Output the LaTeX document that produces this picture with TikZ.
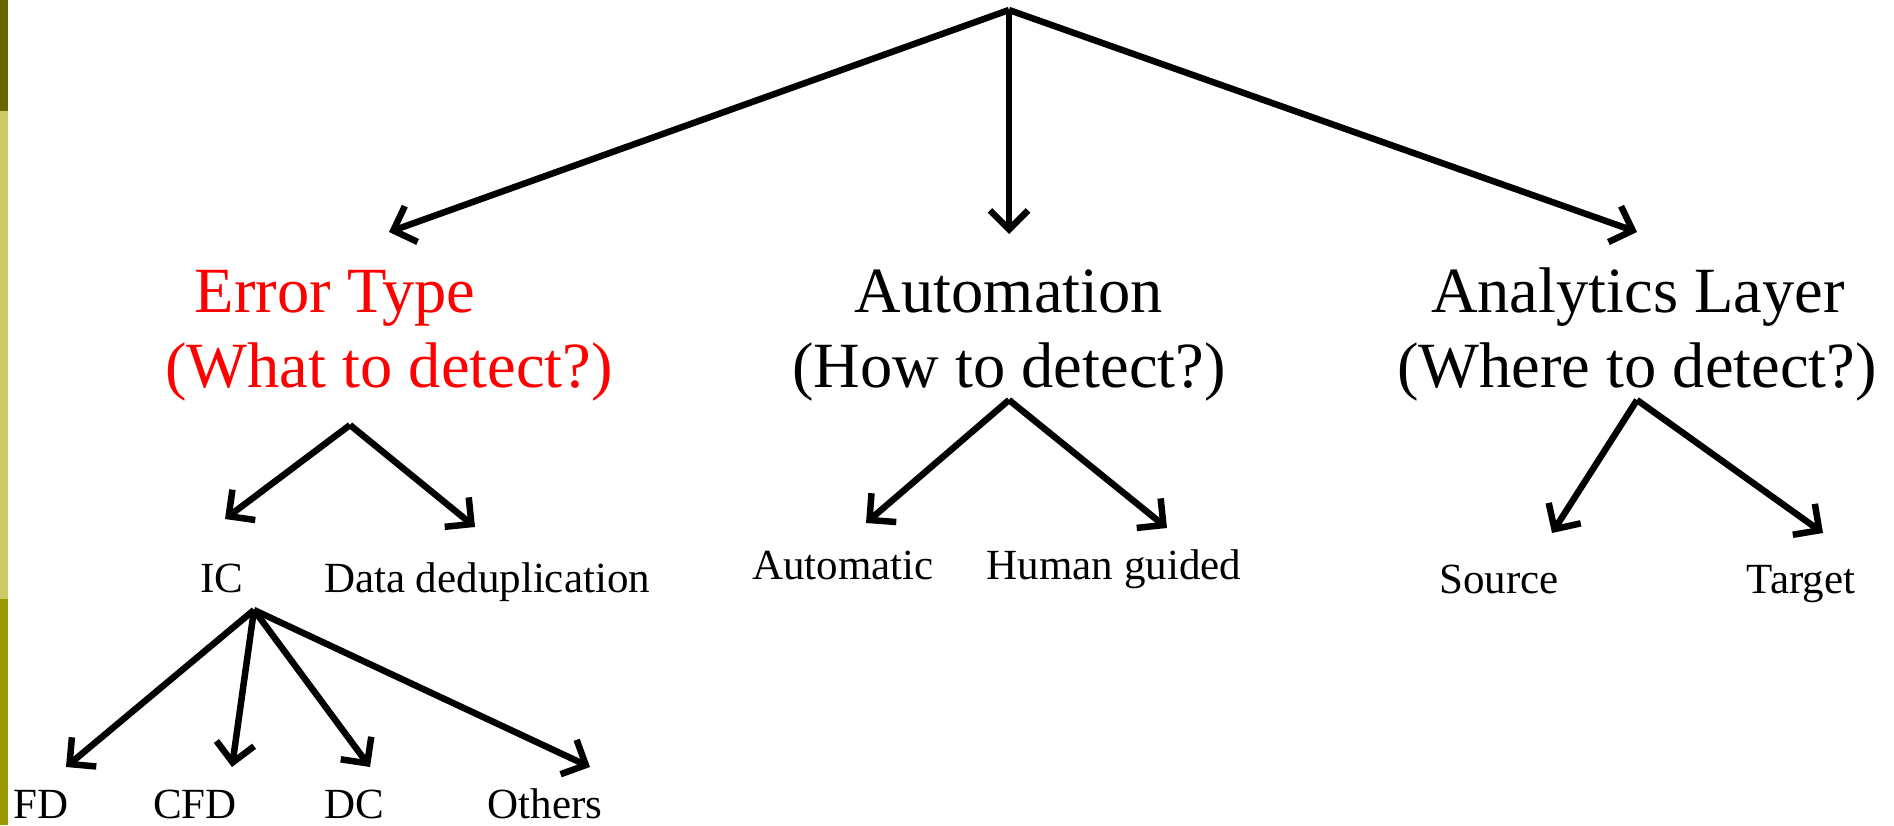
\documentclass[tikz,border=0pt]{standalone}
\usepackage{fontspec}
\setmainfont{Liberation Serif}
\usetikzlibrary{arrows.meta}
\definecolor{bardark}{HTML}{666600}
\definecolor{barlight}{HTML}{CCCC66}
\definecolor{barmid}{HTML}{999900}
\definecolor{errred}{HTML}{FF0000}
\tikzset{
  conn/.style={line width=6.5pt, -{Straight Barb[length=19pt,width=38pt,line width=6.5pt]}},
  bigtxt/.style={anchor=base, inner sep=0pt, font=\fontsize{64.5}{75}\selectfont},
  smalltxt/.style={anchor=base, inner sep=0pt, font=\fontsize{43}{50}\selectfont},
}
\begin{document}
\begin{tikzpicture}[x=1pt,y=-1pt]
\useasboundingbox (0,0) rectangle (1894,825);
\fill[white] (0,0) rectangle (1894,825);
% left bar
\fill[bardark] (0,0) rectangle (8,111);
\fill[barlight] (0,111) rectangle (8,599);
\fill[barmid] (0,599) rectangle (8,825);
% top level
\coordinate (root) at (1009,10);
\coordinate (t1) at (389,232);
\coordinate (t2) at (1009,234);
\coordinate (t3) at (1637,232);
\draw[conn] (root) -- (t1);
\draw[conn] (root) -- (t2);
\draw[conn] (root) -- (t3);
% headings
\node[bigtxt, text=errred] (errA) at (335,312) {Error Type};
\node[bigtxt, text=errred] (errB) at (389,387) {(What to detect?)};
\node[bigtxt] (autA) at (1009,312) {Automation};
\node[bigtxt] (autB) at (1009,387) {(How to detect?)};
\node[bigtxt] (anaA) at (1638,312) {Analytics Layer};
\node[bigtxt] (anaB) at (1637,387) {(Where to detect?)};
% second level
\coordinate (eh) at (350,425);
\coordinate (e1) at (225,519);
\coordinate (e2) at (475,527);
\draw[conn] (eh) -- (e1);
\draw[conn] (eh) -- (e2);
\coordinate (ah) at (1009,400);
\coordinate (a1) at (866,523);
\coordinate (a2) at (1167,528);
\draw[conn] (ah) -- (a1);
\draw[conn] (ah) -- (a2);
\coordinate (lh) at (1637,400);
\coordinate (l1) at (1552,533);
\coordinate (l2) at (1823,533);
\draw[conn] (lh) -- (l1);
\draw[conn] (lh) -- (l2);
\node[smalltxt] (ic) at (222,592) {IC};
\node[smalltxt] (dd) at (487,592) {Data deduplication};
\node[smalltxt] (auto) at (843,579) {Automatic};
\node[smalltxt] (human) at (1114,579) {Human guided};
\node[smalltxt] (src) at (1499,593) {Source};
\node[smalltxt] (tgt) at (1801,593) {Target};
% third level
\coordinate (ih) at (254,610);
\coordinate (i1) at (66,767);
\coordinate (i2) at (232,767);
\coordinate (i3) at (370,767);
\coordinate (i4) at (590,767);
\draw[conn] (ih) -- (i1);
\draw[conn] (ih) -- (i2);
\draw[conn] (ih) -- (i3);
\draw[conn] (ih) -- (i4);
\node[smalltxt] (fd) at (41,818) {FD};
\node[smalltxt] (cfd) at (195,818) {CFD};
\node[smalltxt] (dc) at (354,818) {DC};
\node[smalltxt] (oth) at (545,818) {Others};
\end{tikzpicture}
\end{document}
